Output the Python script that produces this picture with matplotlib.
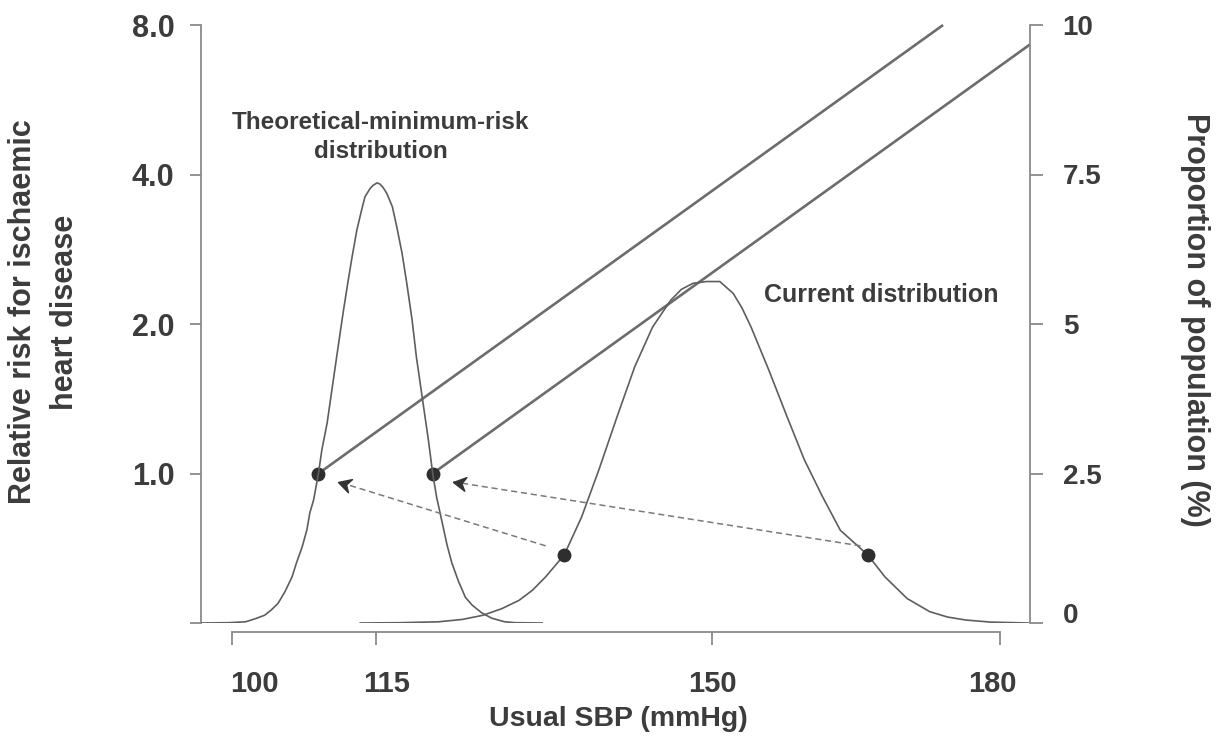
import math
import matplotlib
matplotlib.use("Agg")
import matplotlib.pyplot as plt
from matplotlib.path import Path
from matplotlib.markers import MarkerStyle
from matplotlib.transforms import Affine2D, ScaledTranslation, blended_transform_factory
from matplotlib.ticker import NullLocator, FixedLocator

# ---------------- data ----------------
# Theoretical-minimum-risk distribution: SBP (mmHg) vs proportion (%)
tmr_sbp = [96.8, 99.6, 101.4, 102.4, 103.4, 104.1, 104.8, 105.5, 106.25, 106.7,
           107.3, 107.8, 108.1, 108.5, 109.0, 109.35, 109.9, 110.7, 111.15, 111.6,
           112.05, 112.5, 113.0, 113.5, 113.85, 114.4, 114.7, 115.1, 115.4, 115.7,
           116.1, 116.7, 117.15, 117.7, 118.2, 118.75, 119.2, 119.8, 120.45, 120.9,
           121.3, 121.9, 122.4, 122.9, 123.6, 124.3, 125.0, 126.0, 127.05, 128.4,
           129.5, 132.3]
tmr_pct = [0.0, 0.005, 0.02, 0.07, 0.13, 0.22, 0.33, 0.52, 0.77, 1.0,
           1.27, 1.56, 1.84, 2.06, 2.5, 2.89, 3.34, 4.23, 4.73, 5.22,
           5.68, 6.12, 6.57, 6.91, 7.13, 7.27, 7.32, 7.36, 7.34, 7.29,
           7.19, 6.96, 6.63, 6.19, 5.68, 5.07, 4.45, 3.78, 3.06, 2.5,
           2.11, 1.67, 1.30, 1.00, 0.69, 0.43, 0.30, 0.17, 0.08, 0.02,
           0.005, 0.0]

# Current distribution
cur_sbp = [113.35, 117.5, 121.5, 124.0, 126.15, 128.1, 129.9, 131.3, 132.65, 134.6,
           136.4, 138.2, 140.1, 141.95, 143.8, 145.7, 146.8, 148.0, 149.4, 150.8,
           152.2, 153.1, 154.05, 155.9, 157.8, 159.6, 161.5, 163.35, 166.2, 168.0,
           170.3, 172.65, 174.5, 176.4, 179.0, 182.9]
cur_pct = [0.0, 0.005, 0.02, 0.06, 0.13, 0.24, 0.38, 0.55, 0.77, 1.14,
           1.77, 2.56, 3.45, 4.29, 4.95, 5.4, 5.58, 5.68, 5.71, 5.71,
           5.51, 5.27, 4.95, 4.23, 3.45, 2.73, 2.11, 1.55, 1.14, 0.77,
           0.41, 0.19, 0.10, 0.05, 0.015, 0.0]

# Relative-risk lines (start at RR = 1.0)
risk1_sbp = [109.0, 174.05]
risk1_rr = [1.0, 8.0]
risk2_sbp = [120.9, 183.1]
risk2_rr = [1.0, 7.31]

# dots
rr_dot_sbp = [109.0, 120.9]
rr_dot_rr = [1.0, 1.0]
cur_dot_sbp = [134.6, 166.2]
cur_dot_pct = [1.14, 1.14]

# dashed arrows: (start sbp, start pct) -> (tip sbp, tip pct)
arrow_from_sbp = [132.66, 165.45]
arrow_from_pct = [1.29, 1.29]
arrow_to_sbp = [111.07, 123.05]
arrow_to_pct = [2.36, 2.36]

# axes ticks
x_ticks = [100, 115, 150, 180]
x_ticklabels = ["100", "115", "150", "180"]
rr_ticks = [0.5, 1.0, 2.0, 4.0, 8.0]
rr_ticklabels = ["", "1.0", "2.0", "4.0", "8.0"]
pct_ticks = [0, 2.5, 5, 7.5, 10]
pct_ticklabels = ["0", "2.5", "5", "7.5", "10"]

# ---------------- style ----------------
plt.rcParams['font.family'] = ['Liberation Sans', 'DejaVu Sans']
plt.rcParams['font.weight'] = 'bold'
TXT = '#3c3c3c'
SPINE = '#8a8a8a'
CURVE = '#5e5e5e'
RISK = '#6c6c6c'
DASH = '#7a7a7a'
DOT = '#2e2e2e'

W, H = 1216, 742
fig = plt.figure(figsize=(W / 100, H / 100), dpi=100)
ax = fig.add_axes([201 / W, (H - 623) / H, (1030 - 201) / W, (623 - 25) / H])
ax.set_xlim(96.77, 183.1)
ax.set_yscale('log', base=2)
ax.set_ylim(0.5, 8.0)
ax2 = ax.twinx()
ax2.set_ylim(0, 10)
ax2.set_xlim(96.77, 183.1)

for a in (ax, ax2):
    a.patch.set_visible(False)
    for s in a.spines.values():
        s.set_color(SPINE)
        s.set_linewidth(1.3)
ax.spines['top'].set_visible(False)
ax.spines['right'].set_visible(False)
ax2.spines['top'].set_visible(False)
ax2.spines['left'].set_visible(False)
ax2.spines['bottom'].set_visible(False)

# bottom axis: offset and bounded
ax.spines['bottom'].set_position(('outward', 6.5))
ax.spines['bottom'].set_bounds(100, 180)
ax.set_xticks(x_ticks)
ax.set_xticklabels([])
ax.tick_params(axis='x', direction='out', length=9.5, width=1.3, color=SPINE)

# left axis
ax.yaxis.set_major_locator(FixedLocator(rr_ticks))
ax.yaxis.set_minor_locator(NullLocator())
ax.set_yticklabels(rr_ticklabels)
ax.tick_params(axis='y', direction='out', length=8, width=1.3, color=SPINE,
               labelsize=22, labelcolor=TXT, pad=11)

# right axis
ax2.set_yticks(pct_ticks)
ax2.set_yticklabels(pct_ticklabels)
ax2.tick_params(axis='y', direction='out', length=9.5, width=1.3, color=SPINE,
                labelsize=20, labelcolor=TXT, pad=14)
for lab in ax.get_yticklabels() + ax2.get_yticklabels():
    lab.set_fontweight('bold')
# nudge the "0" label up a little, as in the reference
for t in ax2.yaxis.get_major_ticks():
    if t.get_loc() == 0:
        t.label2.set_transform(t.label2.get_transform() +
                               ScaledTranslation(0, 10 / 100, fig.dpi_scale_trans))

# x tick labels drawn as text (they sit slightly off their ticks in the reference)
x_label_nudge_px = [22, 11, 0, -8]
xtrans = blended_transform_factory(ax.transData, ax.transAxes)
for v, lab, dx in zip(x_ticks, x_ticklabels, x_label_nudge_px):
    ax.text(v, 0, lab, transform=xtrans + ScaledTranslation(dx / 100, -61 / 100, fig.dpi_scale_trans),
            ha='center', va='center', fontsize=21, fontweight='bold', color=TXT)

# ---------------- marks ----------------
ax2.plot(tmr_sbp, tmr_pct, color=CURVE, lw=1.2, solid_joinstyle='round', zorder=3)
ax2.plot(cur_sbp, cur_pct, color=CURVE, lw=1.2, solid_joinstyle='round', zorder=3)
ax.plot(risk1_sbp, risk1_rr, color=RISK, lw=1.9, solid_capstyle='butt', zorder=3, clip_on=False)
ax.plot(risk2_sbp, risk2_rr, color=RISK, lw=1.9, solid_capstyle='butt', zorder=3, clip_on=False)
ax.plot(rr_dot_sbp, rr_dot_rr, 'o', color=DOT, ms=9, zorder=5)
ax2.plot(cur_dot_sbp, cur_dot_pct, 'o', color=DOT, ms=9, zorder=5)

head = Path([(0, 0), (-1, 0.55), (-0.68, 0), (-1, -0.55), (0, 0)],
            [Path.MOVETO, Path.LINETO, Path.LINETO, Path.LINETO, Path.CLOSEPOLY])
for x0, y0, x1, y1 in zip(arrow_from_sbp, arrow_from_pct, arrow_to_sbp, arrow_to_pct):
    ax2.plot([x0, x1], [y0, y1], color=DASH, lw=1.1, ls=(0, (4, 2.5)), zorder=4)
    p0 = ax2.transData.transform((x0, y0))
    p1 = ax2.transData.transform((x1, y1))
    ang = math.degrees(math.atan2(p1[1] - p0[1], p1[0] - p0[0]))
    ms = MarkerStyle(head, transform=Affine2D().rotate_deg(ang))
    ax2.plot([x1], [y1], marker=ms, color='#333333', ms=18, ls='none', zorder=6)

# ---------------- texts ----------------
ax.text(381 / W, 1 - 137 / H, "Theoretical-minimum-risk\ndistribution", transform=fig.transFigure,
        ha='center', va='center', fontsize=17.5, fontweight='bold', color=TXT, linespacing=1.3)
ax.text(881 / W, 1 - 295 / H, "Current distribution", transform=fig.transFigure,
        ha='center', va='center', fontsize=18, fontweight='bold', color=TXT)
fig.text(618 / W, 1 - 719 / H, "Usual SBP (mmHg)", ha='center', va='center',
         fontsize=20.5, fontweight='bold', color=TXT)
fig.text(44 / W, 1 - 312 / H, "Relative risk for ischaemic\nheart disease", ha='center', va='center',
         rotation=90, fontsize=22, fontweight='bold', color=TXT, linespacing=1.55)
fig.text(1195 / W, 1 - 320 / H, "Proportion of population (%)", ha='center', va='center',
         rotation=-90, fontsize=22, fontweight='bold', color=TXT)

fig.savefig("out.png", dpi=100, facecolor='white')
